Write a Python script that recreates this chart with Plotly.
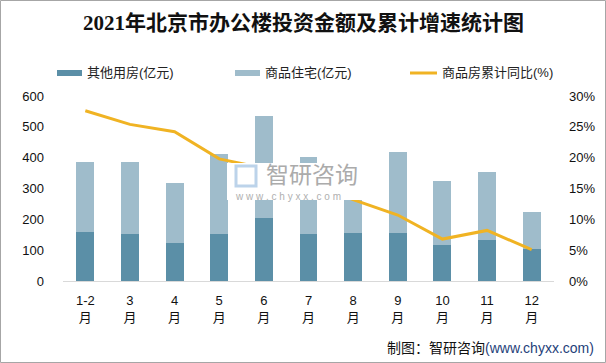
import plotly.graph_objects as go

# ---------------- data ----------------
categories = ["1-2月", "3月", "4月", "5月", "6月", "7月", "8月", "9月", "10月", "11月", "12月"]
other_use = [159, 153, 123, 153, 205, 153, 156, 156, 117, 133, 104]          # 其他用房(亿元)
residential_total = [386, 386, 318, 412, 536, 403, 290, 419, 325, 354, 224]  # 柱顶总额
residential = [t - o for t, o in zip(residential_total, other_use)]          # 商品住宅(亿元)
growth = [27.6, 25.4, 24.2, 19.8, 18.3, 16.0, 13.2, 10.7, 6.8, 8.2, 5.1]     # 商品房累计同比(%)
growth_frac = [g / 100 for g in growth]

tick_text = [c.replace("月", "<br>月") for c in categories]

# ---------------- geometry helpers ----------------
W, H = 606, 363
ML, MR, MT, MB = 63, 52, 96, 82
PW, PH = W - ML - MR, H - MT - MB


def px(x):
    return (x - ML) / PW


def py(y):
    return (H - MB - y) / PH


C_DARK = "#5b8fa7"
C_LIGHT = "#9fbccb"
C_LINE = "#f0b323"
FONT = "Liberation Sans, Noto Sans CJK SC, sans-serif"

fig = go.Figure()
fig.add_trace(go.Bar(x=categories, y=other_use, name="其他用房(亿元)",
                     marker=dict(color=C_DARK, line=dict(width=0)), showlegend=False))
fig.add_trace(go.Bar(x=categories, y=residential, name="商品住宅(亿元)",
                     marker=dict(color=C_LIGHT, line=dict(width=0)), showlegend=False))
fig.add_trace(go.Scatter(x=categories, y=growth_frac, name="商品房累计同比(%)", yaxis="y2",
                         mode="lines", line=dict(color=C_LINE, width=3), showlegend=False))

shapes = []
annotations = []

# legend (manual, to match wide flat swatches)
leg_y = 73
shapes.append(dict(type="rect", xref="paper", yref="paper", x0=px(57), x1=px(82),
                   y0=py(leg_y + 3), y1=py(leg_y - 3), fillcolor=C_DARK, line=dict(width=0)))
shapes.append(dict(type="rect", xref="paper", yref="paper", x0=px(235), x1=px(260),
                   y0=py(leg_y + 3), y1=py(leg_y - 3), fillcolor=C_LIGHT, line=dict(width=0)))
shapes.append(dict(type="line", xref="paper", yref="paper", x0=px(410), x1=px(437),
                   y0=py(leg_y), y1=py(leg_y), line=dict(color=C_LINE, width=3)))
for xpos, txt in [(85, "其他用房(亿元)"), (263, "商品住宅(亿元)"), (440, "商品房累计同比(%)")]:
    annotations.append(dict(x=px(xpos), y=py(leg_y), xref="paper", yref="paper", text=txt,
                            showarrow=False, xanchor="left", yanchor="middle",
                            font=dict(size=13, color="#222222", family=FONT)))

# watermark
shapes.append(dict(type="rect", xref="paper", yref="paper", x0=px(227), x1=px(385),
                   y0=py(200), y1=py(163), fillcolor="white", line=dict(width=0), layer="above"))
shapes.append(dict(type="rect", xref="paper", yref="paper", x0=px(236), x1=px(256),
                   y0=py(186), y1=py(166), fillcolor="rgba(0,0,0,0)",
                   line=dict(color="#bcd3ea", width=3), layer="above"))
annotations.append(dict(x=px(264), y=py(173), xref="paper", yref="paper", text="智研咨询",
                        showarrow=False, xanchor="left", yanchor="middle",
                        font=dict(size=23, color="#ababab", family="Noto Sans CJK SC")))
annotations.append(dict(x=px(233), y=py(196), xref="paper", yref="paper",
                        text="w w w . c h y x x . c o m",
                        showarrow=False, xanchor="left", yanchor="middle",
                        font=dict(size=10, color="#b0b0b0", family=FONT)))

# title
annotations.append(dict(x=px(303), y=py(23), xref="paper", yref="paper",
                        text="<b>2021年北京市办公楼投资金额及累计增速统计图</b>",
                        showarrow=False, xanchor="center", yanchor="middle",
                        font=dict(size=21, color="#111111", family="Liberation Serif, Noto Sans CJK SC, serif")))

# footer
annotations.append(dict(x=px(596), y=py(348), xref="paper", yref="paper",
                        text="制图：智研咨询<span style='color:#1f3f7a'>(www.chyxx.com)</span>",
                        showarrow=False, xanchor="right", yanchor="middle",
                        font=dict(size=14, color="#111111", family=FONT)))

# outer border
shapes.append(dict(type="rect", xref="paper", yref="paper", x0=px(0.5), x1=px(W - 0.5),
                   y0=py(H - 0.5), y1=py(0.5), line=dict(color="#a6a6a6", width=1),
                   fillcolor="rgba(0,0,0,0)", layer="below"))

fig.update_layout(
    width=W, height=H,
    margin=dict(l=ML, r=MR, t=MT, b=MB, pad=0),
    paper_bgcolor="white", plot_bgcolor="white",
    barmode="stack", bargap=0.6,
    font=dict(family=FONT, size=13, color="#111111"),
    xaxis=dict(tickmode="array", tickvals=categories, ticktext=tick_text,
               showline=True, linecolor="#d9d9d9", linewidth=1, showgrid=False,
               ticks="", ticklabelstandoff=7, tickfont=dict(size=13)),
    yaxis=dict(range=[0, 600], dtick=100, showgrid=False, zeroline=False, showline=False,
               ticks="", ticklabelstandoff=18, tickfont=dict(size=13)),
    yaxis2=dict(range=[0, 0.30], dtick=0.05, tickformat=".0%", overlaying="y", side="right",
                showgrid=False, zeroline=False, showline=False, ticks="",
                ticklabelstandoff=14, tickfont=dict(size=13)),
    shapes=shapes, annotations=annotations,
)

fig.write_html("out.html", config={"displayModeBar": False},
               post_script="document.body.style.margin='0';")
